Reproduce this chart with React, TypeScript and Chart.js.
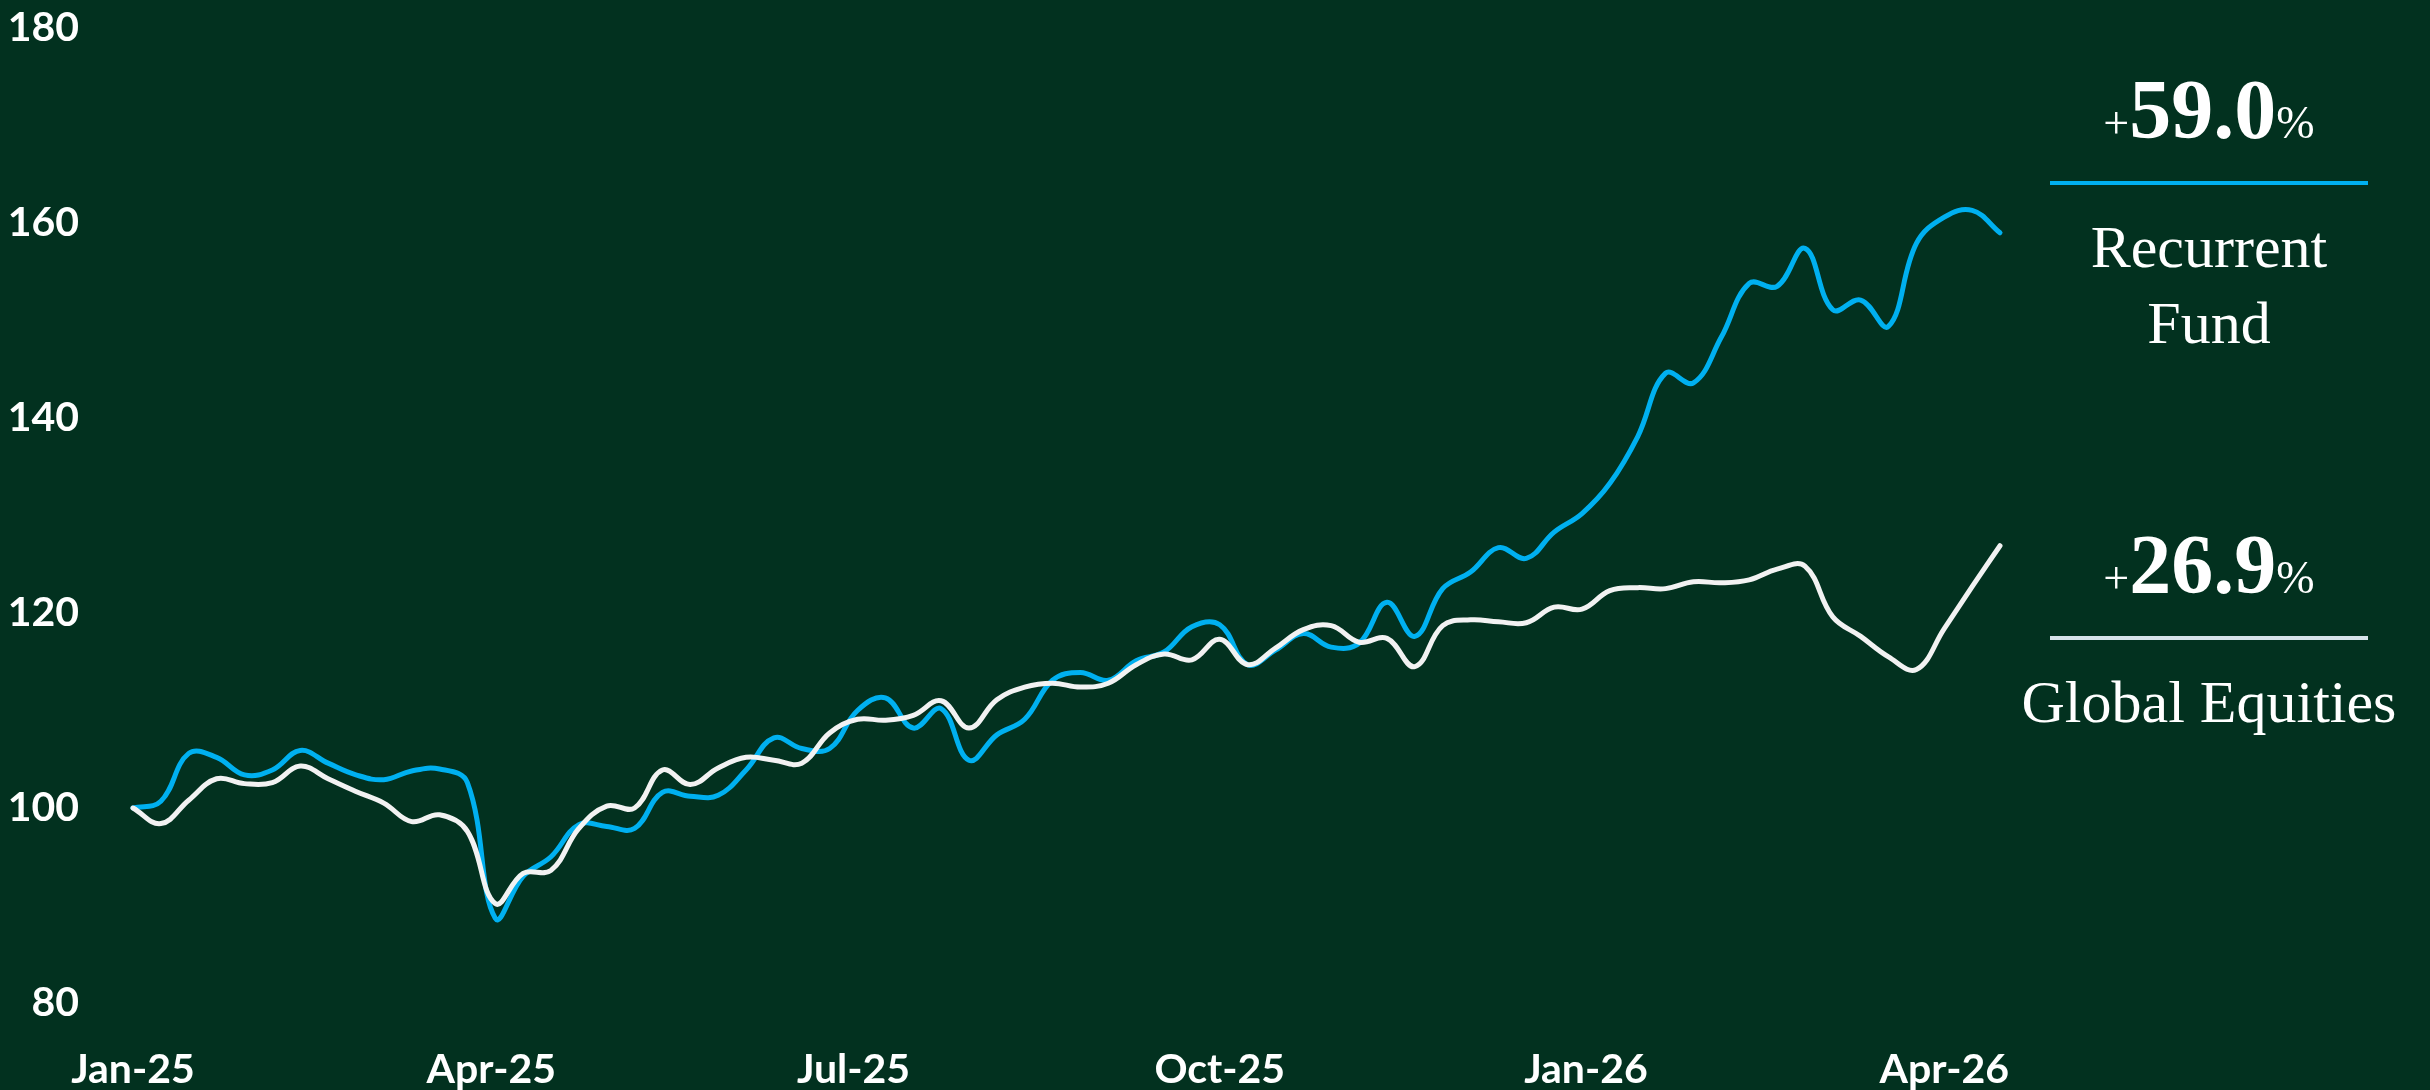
import React, { useEffect, useRef } from 'react';
import { Chart, registerables } from 'chart.js';

Chart.register(...registerables);

// Weekly index values (start = 100), first week = 1 Jan 2025
const weekStepDays = 7;

const fundValues = [
  100.0, 100.7, 105.6, 105.2, 103.4, 103.9, 105.9, 104.6, 103.4, 102.9,
  103.8, 104.0, 102.6, 88.7, 93.0, 95.0, 98.3, 98.1, 97.9, 101.6,
  101.2, 101.3, 103.9, 107.2, 106.1, 106.1, 110.0, 111.3, 108.2, 110.2,
  104.9, 107.5, 109.1, 113.1, 113.9, 113.1, 115.1, 116.0, 118.6, 118.8,
  114.7, 116.2, 117.9, 116.5, 116.9, 121.1, 117.6, 122.5, 124.2, 126.7,
  125.6, 128.3, 130.2, 133.3, 138.1, 144.6, 143.6, 148.3, 153.8, 153.5,
  157.4, 151.1, 152.1, 149.4, 157.9, 160.6, 161.3, 159.0,
];

const equityValues = [
  100.0, 98.4, 100.8, 103.0, 102.5, 102.6, 104.3, 103.0, 101.7, 100.5,
  98.6, 99.3, 97.6, 90.2, 93.3, 93.6, 97.9, 100.2, 100.0, 103.9,
  102.4, 104.1, 105.2, 104.9, 104.6, 107.7, 109.1, 109.0, 109.5, 111.0,
  108.2, 111.1, 112.4, 112.8, 112.4, 112.8, 114.7, 115.8, 115.2, 117.3,
  114.7, 116.4, 118.3, 118.7, 117.0, 117.4, 114.5, 118.7, 119.3, 119.1,
  119.0, 120.6, 120.4, 122.3, 122.6, 122.5, 123.2, 123.1, 123.4, 124.5,
  124.8, 119.6, 117.6, 115.5, 114.2, 118.4, 122.7, 126.9,
];

// Quarter-start ticks (days since 1 Jan 2025)
const tickDays = [0, 90, 181, 273, 365, 455];
const tickLabels = ['Jan-25', 'Apr-25', 'Jul-25', 'Oct-25', 'Jan-26', 'Apr-26'];

const yMin = 80;
const yMax = 180;
const yStep = 20;

const fundReturn = '59.0';
const equityReturn = '26.9';

const BG = '#02311F';
const BLUE = '#00B0F0';
const WHITE = '#F2F2F2';
const SERIF = '"Liberation Serif", "DejaVu Serif", serif';
const SANS = 'Lato, "Open Sans", sans-serif';

export default function App() {
  const ref = useRef<HTMLCanvasElement | null>(null);

  useEffect(() => {
    document.body.style.margin = '0';
    document.body.style.overflow = 'hidden';
    const canvas = ref.current;
    if (!canvas) return;
    const lastDay = (fundValues.length - 1) * weekStepDays;
    const tickFont = { family: SANS, size: 41, weight: 'bold' as const };
    const chart = new Chart(canvas, {
      type: 'line',
      data: {
        datasets: [
          {
            label: 'Global Equities',
            data: equityValues.map((v, i) => ({ x: i * weekStepDays, y: v })),
            borderColor: WHITE,
            borderWidth: 5,
            pointRadius: 0,
            tension: 0.4,
            borderCapStyle: 'round',
            borderJoinStyle: 'round',
            order: 0,
            clip: 10,
          },
          {
            label: 'Recurrent Fund',
            data: fundValues.map((v, i) => ({ x: i * weekStepDays, y: v })),
            borderColor: BLUE,
            borderWidth: 5,
            pointRadius: 0,
            tension: 0.4,
            borderCapStyle: 'round',
            borderJoinStyle: 'round',
            order: 1,
            clip: 10,
          },
        ],
      },
      options: {
        animation: false,
        responsive: false,
        devicePixelRatio: 1,
        layout: { padding: { top: 28, right: 430, left: 0, bottom: 0 } },
        plugins: { legend: { display: false }, tooltip: { enabled: false } },
        scales: {
          x: {
            type: 'linear',
            min: 0,
            max: lastDay,
            offset: false,
            grid: { display: false },
            border: { display: false },
            afterBuildTicks: (scale: any) => {
              scale.ticks = tickDays.map((d) => ({ value: d }));
            },
            afterFit: (scale: any) => {
              scale.height = 87;
              scale.paddingLeft = 0;
              scale.paddingRight = 0;
            },
            ticks: {
              autoSkip: false,
              maxRotation: 0,
              minRotation: 0,
              padding: 34,
              color: '#FFFFFF',
              font: tickFont,
              callback: (_v: any, i: number) => tickLabels[i],
            },
          },
          y: {
            min: yMin,
            max: yMax,
            grid: { display: false },
            border: { display: false },
            afterFit: (scale: any) => {
              scale.width = 133;
              scale.paddingTop = 0;
              scale.paddingBottom = 0;
            },
            ticks: {
              stepSize: yStep,
              padding: 46,
              color: '#FFFFFF',
              font: tickFont,
            },
          },
        },
      },
    });
    return () => chart.destroy();
  }, []);

  const centerLeft = 2009;
  const boxW = 400;
  const textBase: React.CSSProperties = {
    position: 'absolute',
    left: centerLeft,
    width: boxW,
    textAlign: 'center',
    color: '#FFFFFF',
    fontFamily: SERIF,
    whiteSpace: 'nowrap',
  };

  const pct = (val: string, top: number) => (
    <div style={{ ...textBase, top, fontSize: 84, lineHeight: '84px' }}>
      <span style={{ fontSize: 46, fontWeight: 'normal' }}>+</span>
      <span style={{ fontWeight: 'bold' }}>{val}</span>
      <span style={{ fontSize: 46, fontWeight: 'normal' }}>%</span>
    </div>
  );

  return (
    <div style={{ position: 'relative', width: 2430, height: 1090, background: BG, overflow: 'hidden' }}>
      <canvas ref={ref} width={2430} height={1090} style={{ position: 'absolute', left: 0, top: 0 }} />
      {pct(fundReturn, 68)}
      <div style={{ position: 'absolute', left: 2050, top: 181, width: 318, height: 4, background: BLUE }} />
      <div style={{ ...textBase, top: 217, fontSize: 60, lineHeight: '60px' }}>Recurrent</div>
      <div style={{ ...textBase, top: 293, fontSize: 60, lineHeight: '60px' }}>Fund</div>
      {pct(equityReturn, 523)}
      <div style={{ position: 'absolute', left: 2050, top: 636, width: 318, height: 4, background: '#D6E3EA' }} />
      <div style={{ ...textBase, top: 672, fontSize: 60, lineHeight: '60px' }}>Global Equities</div>
    </div>
  );
}
